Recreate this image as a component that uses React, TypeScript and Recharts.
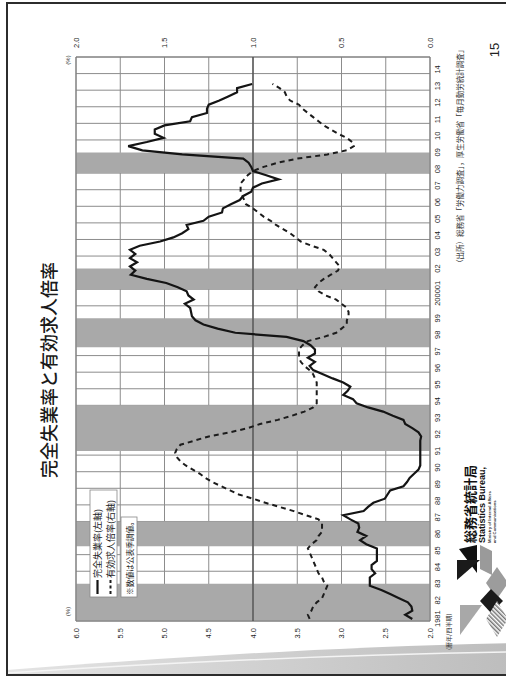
import React from 'react'
import {
  LineChart, Line, XAxis, YAxis, CartesianGrid, ReferenceArea, ReferenceLine,
} from 'recharts'

const START_YEAR = 1981

// 完全失業率（%、四半期・季調値）
const UNEMPLOYMENT = [
  2.2, 2.28, 2.2, 2.21, // 1981
  2.25, 2.35, 2.45, 2.55,
  2.68, 2.68, 2.68, 2.62,
  2.66, 2.66, 2.6, 2.6,
  2.6, 2.6, 2.72, 2.79, // 1985
  2.72, 2.82, 2.8, 2.81,
  2.9, 2.98, 2.75, 2.7,
  2.64, 2.51, 2.48, 2.45,
  2.3, 2.26, 2.23, 2.18,
  2.13, 2.11, 2.11, 2.11, // 1990
  2.11, 2.11, 2.11, 2.11,
  2.1, 2.13, 2.2, 2.28,
  2.3, 2.42, 2.53, 2.7,
  2.83, 2.87, 2.98, 2.93,
  2.9, 2.98, 3.1, 3.21, // 1995
  3.32, 3.36, 3.3, 3.38,
  3.3, 3.3, 3.35, 3.43,
  3.62, 4.2, 4.4, 4.56,
  4.65, 4.69, 4.7, 4.71,
  4.77, 4.67, 4.73, 4.75, // 2000
  4.85, 4.98, 5.2, 5.38,
  5.33, 5.39, 5.31, 5.39,
  5.33, 5.39, 5.28, 5.05,
  4.9, 4.8, 4.73, 4.75,
  4.56, 4.5, 4.35, 4.34, // 2005
  4.25, 4.15, 4.11, 4.02,
  4.0, 3.9, 3.71, 3.85,
  4.0, 4.02, 4.05, 4.11,
  4.8, 5.25, 5.41, 5.2,
  5.01, 5.11, 5.11, 5.0, // 2010
  4.71, 4.69, 4.52, 4.52,
  4.5, 4.38, 4.28, 4.18,
  4.18, 4.01,
]

// 有効求人倍率（倍、四半期・季調値）
const JOB_RATIO = [
  0.68, 0.69, 0.67, 0.66, // 1981
  0.64, 0.61, 0.6, 0.59,
  0.58, 0.6, 0.61, 0.63,
  0.64, 0.65, 0.66, 0.67,
  0.68, 0.69, 0.67, 0.64, // 1985
  0.63, 0.61, 0.61, 0.61,
  0.63, 0.7, 0.77, 0.85,
  0.93, 1.0, 1.08, 1.13,
  1.18, 1.23, 1.27, 1.3,
  1.34, 1.38, 1.41, 1.43, // 1990
  1.44, 1.43, 1.41, 1.33,
  1.25, 1.13, 1.03, 0.96,
  0.86, 0.78, 0.71, 0.66,
  0.64, 0.64, 0.64, 0.64,
  0.64, 0.64, 0.65, 0.66, // 1995
  0.68, 0.71, 0.73, 0.74,
  0.74, 0.74, 0.72, 0.69,
  0.6, 0.53, 0.5, 0.47,
  0.47, 0.46, 0.46, 0.47,
  0.5, 0.53, 0.59, 0.63, // 2000
  0.65, 0.63, 0.6, 0.56,
  0.52, 0.51, 0.53, 0.55,
  0.57, 0.6, 0.67, 0.73,
  0.76, 0.79, 0.83, 0.87,
  0.9, 0.94, 0.97, 1.0, // 2005
  1.04, 1.05, 1.06, 1.07,
  1.07, 1.07, 1.05, 1.03,
  1.0, 0.94, 0.86, 0.75,
  0.58, 0.47, 0.43, 0.44,
  0.47, 0.52, 0.56, 0.6, // 2010
  0.63, 0.66, 0.69, 0.72,
  0.74, 0.79, 0.81, 0.82,
  0.85, 0.89,
]

// 景気後退期（網掛け）
const RECESSIONS = [
  [1981, 1983.25],
  [1985.5, 1987],
  [1991.25, 1994],
  [1997.5, 1999.25],
  [2001, 2002.25],
  [2008, 2009.25],
]

const YEAR_LABELS = [
  '1981', '82', '83', '84', '85', '86', '87', '88', '89', '90', '91', '92',
  '93', '94', '95', '96', '97', '98', '99', '2000', '01', '02', '03', '04',
  '05', '06', '07', '08', '09', '10', '11', '12', '13', '14',
]
const UNEMP_TICKS = [2, 2.5, 3, 3.5, 4, 4.5, 5, 5.5, 6]
const RATIO_TICKS = [0, 0.5, 1, 1.5, 2]

const YEAR_TICKS = [...YEAR_LABELS.map((_, i) => START_YEAR + i), START_YEAR + YEAR_LABELS.length]

const data = UNEMPLOYMENT.map((u, i) => ({
  t: START_YEAR + Math.floor(i / 4) + (i % 4) / 4 + 0.125,
  u,
  r: JOB_RATIO[i],
}))

const SANS = '"Liberation Sans", Arial, sans-serif'
const JP = '"Noto Sans CJK JP", "Noto Sans", sans-serif'

// slide is laid out landscape, then turned a quarter to the left
const W = 679
const H = 506

function YearTick(props: any) {
  const { x, y, payload } = props
  const idx = Math.round(payload.value) - START_YEAR
  const label = YEAR_LABELS[idx]
  if (!label) return <g />
  return (
    <text
      x={x + (idx === 0 ? -6 : 0)}
      y={y}
      dy="0.71em"
      textAnchor="start"
      fontSize={7.5}
      fontFamily={SANS}
      fill="#222"
    >
      {label}
    </text>
  )
}

function Chart() {
  return (
    <LineChart
      width={W}
      height={H}
      data={data}
      margin={{ top: 76, right: 17, bottom: 56, left: 18 }}
      style={{ position: 'absolute', left: 0, top: 0 }}
    >
      <CartesianGrid yAxisId="left" stroke="#8c8c8c" strokeWidth={1} />
      <XAxis
        dataKey="t"
        type="number"
        domain={[1981, 2015]}
        ticks={YEAR_TICKS}
        interval={0}
        height={20}
        axisLine={false}
        tickLine={false}
        tickSize={0}
        tickMargin={5}
        tick={(p: any) => <YearTick {...p} />}
      />
      <YAxis
        yAxisId="left"
        domain={[2, 6]}
        ticks={UNEMP_TICKS}
        width={40}
        axisLine={false}
        tickLine={false}
        tickSize={0}
        tickMargin={7}
        tickFormatter={(v: number) => v.toFixed(1)}
        tick={{ fontSize: 7.5, fill: '#222', fontFamily: SANS }}
      />
      <YAxis
        yAxisId="right"
        orientation="right"
        domain={[0, 2]}
        ticks={RATIO_TICKS}
        width={40}
        axisLine={false}
        tickLine={false}
        tickSize={0}
        tickMargin={9}
        tickFormatter={(v: number) => v.toFixed(1)}
        tick={{ fontSize: 7.5, fill: '#222', fontFamily: SANS, textAnchor: 'start' }}
      />
      {RECESSIONS.map(([a, b]) => (
        <ReferenceArea
          key={a}
          yAxisId="left"
          x1={a}
          x2={b}
          y1={2}
          y2={6}
          fill="#a9a9a9"
          fillOpacity={1}
          stroke="none"
        />
      ))}
      <ReferenceLine yAxisId="right" y={1} stroke="#4a4a4a" strokeWidth={1.3} />
      <ReferenceArea
        yAxisId="left"
        x1={1981}
        x2={2015}
        y1={2}
        y2={6}
        fill="none"
        stroke="#7a7a7a"
        strokeWidth={1}
      />
      <Line
        yAxisId="left"
        dataKey="u"
        type="linear"
        stroke="#141414"
        strokeWidth={2.2}
        dot={false}
        isAnimationActive={false}
      />
      <Line
        yAxisId="right"
        dataKey="r"
        type="linear"
        stroke="#1c1c1c"
        strokeWidth={2}
        strokeDasharray="5 4"
        dot={false}
        isAnimationActive={false}
      />
    </LineChart>
  )
}

function Decorations() {
  return (
    <svg
      width={W}
      height={H}
      style={{ position: 'absolute', left: 0, top: 0, pointerEvents: 'none' }}
    >
      <defs>
        <linearGradient id="wave" x1="0" y1="0" x2="0" y2="1">
          <stop offset="0" stopColor="#e4e4e4" />
          <stop offset="1" stopColor="#bdbdbd" />
        </linearGradient>
        <pattern id="stripe" width="3" height="3" patternUnits="userSpaceOnUse" patternTransform="rotate(45)">
          <rect width="3" height="3" fill="#fff" />
          <rect width="1.5" height="3" fill="#777" />
        </pattern>
      </defs>

      {/* swoosh along the left edge */}
      <path d="M4,7 L9,7 C20,150 32,320 36,512 L4,512 Z" fill="url(#wave)" />
      <path d="M6,7 C16,160 24,330 27,512" fill="none" stroke="#f4f4f4" strokeWidth={1.5} />

      {/* frame */}
      <rect x={4} y={7} width={672} height={505} fill="none" stroke="#2c2c2c" strokeWidth={2} />

      {/* title */}
      <text x={309} y={48} textAnchor="middle" dominantBaseline="central" fontSize={18}
        fontFamily={JP} fontWeight={500} fill="#1a1a1a">
        完全失業率と有効求人倍率
      </text>

      {/* unit marks */}
      <text x={67.5} y={68} textAnchor="middle" dominantBaseline="central" fontSize={6} fontFamily={SANS} fill="#333">(%)</text>
      <text x={619} y={68} textAnchor="middle" dominantBaseline="central" fontSize={6} fontFamily={SANS} fill="#333">(%)</text>

      <text x={29} y={448} dominantBaseline="central" fontSize={6} fontFamily={JP} fill="#333">(暦年/四半期)</text>

      <text x={412} y={459} dominantBaseline="central" fontSize={7.5} fontFamily={JP} fill="#333">
        （出所）総務省「労働力調査」，厚生労働省「毎月勤労統計調査」
      </text>

      {/* legend */}
      <rect x={82} y={90} width={107} height={27} fill="#fff" stroke="#888" strokeWidth={0.8} />
      <line x1={85} y1={97.5} x2={99} y2={97.5} stroke="#141414" strokeWidth={2.2} />
      <text x={101} y={97.5} dominantBaseline="central" fontSize={9} fontFamily={JP} fill="#222">完全失業率(左軸)</text>
      <line x1={85} y1={110.5} x2={99} y2={110.5} stroke="#1c1c1c" strokeWidth={2} strokeDasharray="3 2.5" />
      <text x={101} y={110.5} dominantBaseline="central" fontSize={9} fontFamily={JP} fill="#222">有効求人倍率(右軸)</text>
      <rect x={82} y={121} width={80} height={16} fill="#fff" stroke="#888" strokeWidth={0.8} />
      <text x={84} y={129} dominantBaseline="central" fontSize={7.7} fontFamily={JP} fill="#222">※数値は公表季調値。</text>

      {/* page number */}
      <text x={629} y={494} textAnchor="middle" dominantBaseline="central" fontSize={13} fontFamily={SANS} fill="#222">15</text>

      {/* bureau logo */}
      <polygon points="106,477 134,477 130,459" fill="#111" />
      <polygon points="110,480 134,480 128,492 104,492" fill="#9a9a9a" />
      <text x={136} y={469} dominantBaseline="central" fontSize={13} fontWeight={700} fontFamily={JP} fill="#111">総務省統計局</text>
      <text x={136} y={481.5} dominantBaseline="central" fontSize={9} fontWeight={700} fontFamily={SANS} fill="#111">Statistics Bureau,</text>
      <text x={136} y={489} dominantBaseline="central" fontSize={4.2} fontWeight={700} fontFamily={SANS} fill="#333">Ministry of Internal Affairs</text>
      <text x={136} y={494} dominantBaseline="central" fontSize={4.2} fontWeight={700} fontFamily={SANS} fill="#333">and Communications</text>

      {/* corner ornaments */}
      <polygon points="99,457 119,457 119,480" fill="#1a1a1a" />
      <polygon points="96,486 112,497 96,508 80,497" fill="#9c9c9c" />
      <polygon points="78,480 90,491 78,503 66,491" fill="#1a1a1a" />
      <polygon points="60,486 78,497 60,508 42,497" fill="url(#stripe)" />
      <polygon points="44,460 74,460 74,482" fill="#a8a8a8" />
    </svg>
  )
}

export default function App() {
  return (
    <div style={{ position: 'fixed', left: 0, top: 0, width: 506, height: 679, overflow: 'hidden', background: '#fff' }}>
      <div
        style={{
          position: 'absolute',
          left: 0,
          top: 0,
          width: W,
          height: H,
          transform: `translate(0px, ${W}px) rotate(-90deg)`,
          transformOrigin: '0 0',
          background: '#fff',
        }}
      >
        <Chart />
        <Decorations />
      </div>
    </div>
  )
}
